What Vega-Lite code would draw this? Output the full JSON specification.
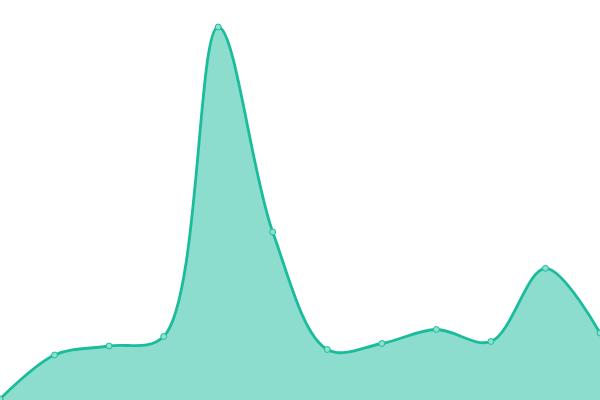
{
  "$schema": "https://vega.github.io/schema/vega-lite/v6.json",
  "width": 600,
  "height": 400,
  "padding": 0,
  "autosize": {"type": "none"},
  "background": "white",
  "config": {"view": {"stroke": null}},
  "data": {"values": [
    {"i": 0, "v": 1},
    {"i": 1, "v": 45},
    {"i": 2, "v": 54},
    {"i": 3, "v": 63.5},
    {"i": 4, "v": 373},
    {"i": 5, "v": 168},
    {"i": 6, "v": 50.5},
    {"i": 7, "v": 56.5},
    {"i": 8, "v": 70.5},
    {"i": 9, "v": 58.5},
    {"i": 10, "v": 131.7},
    {"i": 11, "v": 67}
  ]},
  "encoding": {
    "x": {"field": "i", "type": "quantitative", "scale": {"domain": [0, 11], "nice": false, "zero": false}, "axis": null},
    "y": {"field": "v", "type": "quantitative", "scale": {"domain": [0, 400], "nice": false}, "axis": null}
  },
  "layer": [
    {"mark": {"type": "area", "interpolate": "catmull-rom", "color": "#1abc9c", "opacity": 0.5}},
    {"mark": {"type": "line", "interpolate": "catmull-rom", "color": "#1abc9c", "strokeWidth": 2.8}},
    {"mark": {"type": "point", "filled": true, "fill": "#8ee0cf", "stroke": "#1abc9c", "strokeWidth": 1, "opacity": 1, "size": 35}}
  ]
}
